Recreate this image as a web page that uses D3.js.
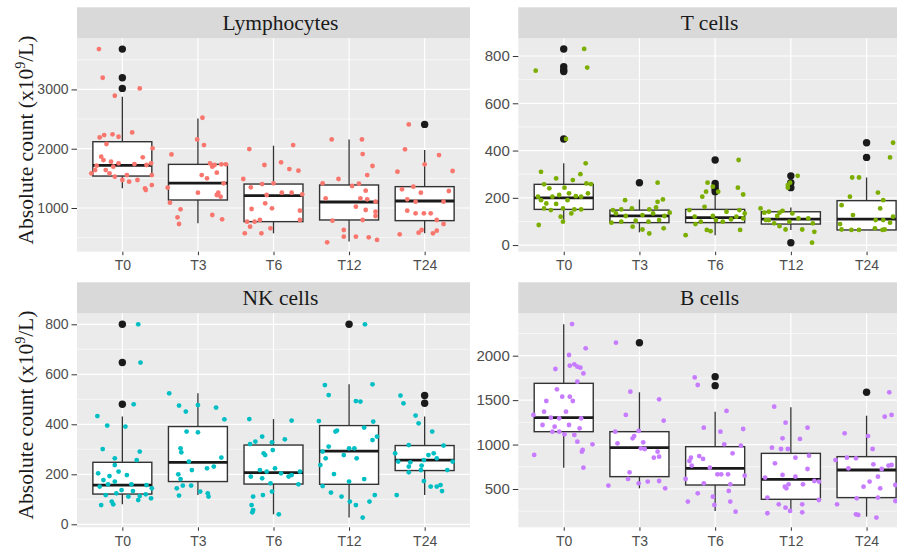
<!DOCTYPE html>
<html>
<head>
<meta charset="utf-8">
<script src="https://cdn.jsdelivr.net/npm/d3@7"></script>
<style>
  body { margin: 0; background: #fff; }
  svg { display: block; }
</style>
</head>
<body>
<div id="chart"></div>
<script>
const timepoints = ['T0', 'T3', 'T6', 'T12', 'T24'];

// box stats per timepoint: [lower whisker, Q1, median, Q3, upper whisker]
const lymphBox = [[1331, 1539, 1719, 2118, 2876], [742, 1135, 1421, 1736, 2511], [573, 770, 1208, 1404, 2051], [433, 798, 1101, 1388, 2157], [573, 787, 1118, 1360, 1978]];
const tBox = [[106, 151, 200, 257, 346], [54, 95, 124, 148, 193], [42, 95, 116, 151, 214], [64, 89, 110, 141, 159], [64, 64, 110, 188, 286]];
const nkBox = [[80, 121, 157, 248, 431], [117, 171, 248, 391, 524], [40, 161, 207, 317, 421], [27, 160, 293, 395, 560], [117, 215, 257, 315, 431]];
const bBox = [[740, 1145, 1303, 1689, 2353], [508, 639, 965, 1145, 1588], [253, 545, 733, 976, 1370], [238, 384, 609, 901, 1419], [189, 403, 714, 864, 1325]];

// outliers per timepoint
const lymphOut = [[3680, 3197, 3017], [], [], [], [2410]];
const tOut = [[830, 755, 741, 734, 449], [264], [360, 261, 247, 236, 226], [293, 264, 243, 10], [433, 371]];
const nkOut = [[800, 647, 480], [], [], [800], [515, 484]];
const bOut = [[], [2146], [1764, 1663], [], [1588]];

// jittered observations per timepoint: [jitter (category units), value]
const lymphPts = [
  [[-0.31, 3680], [-0.26, 3197], [0.23, 3017], [-0.10, 2893], [0.13, 2275], [-0.13, 2242], [-0.24, 2230], [-0.05, 2202], [-0.30, 2191], [-0.21, 2079], [0.40, 2006], [-0.28, 1865], [0.27, 1854], [-0.25, 1809], [-0.15, 1781], [-0.05, 1753], [-0.34, 1713], [-0.36, 1640], [-0.12, 1697], [-0.22, 1640], [-0.17, 1584], [0.06, 1556], [-0.10, 1528], [0.00, 1472], [0.09, 1444], [0.20, 1472], [0.32, 1725], [0.38, 1753], [0.39, 1556], [0.30, 1331], [0.31, 1303], [0.39, 1387], [-0.41, 1584], [0.16, 1741]],
  [[0.06, 2522], [-0.01, 2157], [0.08, 2062], [-0.35, 1904], [0.16, 1753], [0.22, 1725], [0.31, 1736], [0.37, 1736], [0.19, 1697], [0.05, 1556], [0.12, 1500], [0.25, 1595], [0.34, 1416], [-0.40, 1343], [0.00, 1258], [0.27, 1258], [0.25, 1219], [0.30, 1191], [-0.37, 1090], [-0.23, 977], [-0.27, 843], [-0.25, 730], [0.19, 882], [0.32, 809]],
  [[-0.32, 1994], [0.26, 2062], [-0.12, 1725], [0.10, 1770], [0.21, 1657], [0.33, 1629], [-0.40, 1489], [-0.30, 1348], [-0.15, 1404], [0.00, 1416], [0.11, 1258], [0.24, 1258], [0.38, 1230], [-0.09, 1219], [-0.29, 983], [-0.11, 1079], [-0.02, 994], [0.35, 955], [-0.35, 770], [-0.25, 770], [-0.18, 798], [0.35, 798], [-0.31, 685], [-0.04, 657], [-0.38, 573], [-0.16, 573]],
  [[-0.23, 2157], [0.17, 2157], [0.18, 1910], [0.31, 1708], [-0.14, 1489], [0.24, 1556], [-0.35, 1416], [0.04, 1371], [0.13, 1410], [0.22, 1292], [-0.31, 1163], [0.15, 1163], [0.24, 1146], [0.35, 1107], [0.09, 1023], [0.22, 966], [0.35, 938], [0.35, 865], [-0.22, 787], [0.18, 798], [-0.07, 629], [-0.07, 517], [0.09, 517], [0.26, 506], [-0.29, 421], [0.37, 461]],
  [[-0.21, 2410], [-0.26, 1989], [0.00, 1736], [-0.36, 1612], [-0.30, 1315], [-0.15, 1360], [-0.05, 1258], [-0.23, 1146], [-0.12, 1107], [-0.23, 955], [-0.12, 910], [-0.01, 910], [0.08, 910], [-0.33, 556], [-0.04, 629], [-0.08, 584], [0.16, 798], [0.25, 730], [0.11, 573], [0.16, 618], [0.19, 1893], [0.37, 1624], [0.32, 1287], [0.25, 1107]]
];
const tPts = [
  [[-0.37, 738], [0.27, 830], [0.31, 751], [0.03, 449], [0.29, 346], [-0.30, 310], [-0.10, 282], [0.22, 300], [0.12, 275], [-0.26, 257], [-0.19, 240], [0.01, 243], [0.30, 261], [0.36, 258], [-0.34, 205], [-0.30, 190], [-0.15, 205], [-0.06, 212], [0.07, 219], [0.16, 207], [0.23, 205], [0.32, 219], [-0.23, 176], [-0.10, 174], [0.05, 190], [-0.26, 155], [-0.17, 148], [-0.01, 155], [0.14, 151], [0.23, 151], [-0.04, 120], [-0.01, 99], [-0.33, 85], [0.10, 134]],
  [[0.24, 264], [-0.19, 190], [0.31, 193], [0.24, 183], [-0.35, 148], [-0.24, 151], [-0.10, 155], [0.13, 151], [0.22, 159], [0.40, 137], [-0.31, 134], [-0.18, 123], [0.04, 127], [0.18, 134], [0.33, 123], [-0.37, 95], [-0.24, 99], [-0.05, 103], [0.12, 99], [0.26, 106], [-0.09, 78], [0.04, 66], [0.13, 49], [0.32, 71]],
  [[0.31, 360], [-0.10, 264], [-0.03, 247], [0.04, 226], [-0.12, 226], [-0.17, 205], [0.37, 214], [0.30, 243], [-0.34, 148], [-0.14, 162], [0.15, 141], [0.32, 148], [0.39, 134], [-0.27, 120], [-0.03, 123], [0.28, 120], [0.37, 113], [-0.26, 89], [-0.19, 99], [0.01, 106], [0.10, 99], [0.21, 109], [-0.11, 64], [-0.06, 59], [0.33, 64], [-0.39, 42]],
  [[0.09, 293], [-0.04, 254], [-0.01, 264], [-0.04, 243], [-0.40, 155], [-0.35, 137], [-0.29, 141], [-0.15, 137], [-0.11, 145], [0.02, 134], [-0.33, 106], [-0.18, 123], [-0.02, 99], [0.10, 113], [0.23, 113], [0.29, 92], [-0.15, 80], [-0.07, 66], [0.15, 66], [0.31, 56], [0.28, 10], [-0.29, 106], [-0.22, 92]],
  [[-0.19, 286], [-0.10, 286], [0.31, 371], [0.35, 433], [-0.22, 205], [0.15, 222], [0.22, 190], [0.18, 155], [-0.33, 169], [-0.18, 127], [-0.35, 89], [-0.33, 66], [-0.20, 64], [-0.10, 64], [0.11, 71], [0.21, 64], [0.24, 66], [0.12, 106], [0.22, 106], [0.35, 120], [0.31, 95]]
];
const nkPts = [
  [[0.21, 800], [0.24, 647], [0.15, 480], [-0.33, 433], [-0.20, 395], [0.04, 391], [-0.26, 301], [-0.10, 264], [0.23, 291], [0.19, 257], [-0.10, 237], [-0.32, 204], [-0.17, 193], [-0.05, 211], [0.06, 197], [-0.25, 177], [-0.10, 171], [0.12, 160], [0.32, 157], [0.39, 144], [-0.30, 151], [-0.19, 160], [-0.01, 137], [0.14, 133], [-0.22, 117], [-0.08, 124], [0.08, 111], [0.23, 113], [0.38, 104], [-0.28, 77], [-0.14, 91], [-0.12, 80], [0.21, 97], [0.31, 120]],
  [[-0.38, 524], [-0.25, 475], [-0.16, 451], [0.00, 477], [0.24, 467], [0.35, 420], [-0.15, 371], [0.00, 368], [-0.23, 304], [-0.22, 288], [-0.12, 251], [0.31, 267], [-0.08, 217], [0.12, 224], [0.21, 231], [-0.26, 200], [-0.23, 181], [-0.20, 155], [-0.09, 155], [0.03, 131], [0.13, 124], [0.14, 111], [-0.28, 144], [-0.25, 115]],
  [[-0.32, 421], [0.24, 415], [0.15, 340], [-0.15, 351], [-0.24, 331], [-0.31, 321], [-0.02, 328], [-0.13, 284], [-0.11, 277], [-0.01, 297], [-0.18, 217], [-0.09, 211], [0.02, 224], [0.10, 204], [0.20, 191], [0.24, 197], [0.35, 211], [-0.30, 191], [-0.15, 184], [0.33, 160], [-0.04, 164], [-0.02, 131], [-0.27, 111], [-0.14, 117], [-0.29, 77], [-0.27, 57], [-0.28, 48], [0.07, 40]],
  [[0.21, 800], [-0.32, 557], [-0.27, 517], [0.31, 560], [0.09, 493], [0.15, 491], [-0.40, 413], [0.32, 411], [0.20, 387], [-0.18, 371], [-0.16, 375], [0.37, 351], [0.31, 337], [-0.35, 291], [-0.27, 311], [-0.07, 277], [0.07, 304], [0.00, 304], [0.10, 264], [-0.38, 237], [-0.31, 264], [-0.20, 201], [0.20, 181], [0.00, 171], [-0.35, 153], [-0.24, 127], [-0.10, 111], [0.27, 91], [0.34, 117], [0.01, 91], [0.09, 77], [0.18, 27]],
  [[-0.32, 515], [-0.28, 484], [-0.12, 435], [-0.08, 404], [0.10, 371], [-0.39, 284], [-0.21, 317], [-0.35, 251], [-0.19, 248], [-0.01, 257], [0.05, 277], [0.12, 284], [0.25, 315], [0.16, 264], [-0.21, 231], [-0.04, 235], [-0.21, 208], [-0.05, 217], [-0.37, 117], [-0.01, 173], [0.08, 151], [0.16, 151], [0.23, 133], [0.21, 157], [0.37, 251], [0.30, 217]]
];
const bPts = [
  [[0.11, 2356], [0.29, 2083], [0.07, 2008], [-0.11, 1850], [0.08, 1888], [0.14, 1903], [0.18, 1876], [0.22, 1865], [0.26, 1801], [0.18, 1708], [-0.09, 1621], [-0.02, 1539], [-0.23, 1490], [0.08, 1539], [0.12, 1490], [-0.40, 1333], [-0.26, 1370], [0.03, 1370], [-0.17, 1303], [-0.06, 1295], [0.23, 1295], [-0.28, 1220], [-0.12, 1201], [0.07, 1220], [0.21, 1183], [-0.15, 1145], [-0.06, 1145], [0.01, 1115], [0.14, 1108], [0.18, 1033], [0.25, 939], [0.38, 1003], [-0.39, 883], [0.24, 920], [0.26, 740]],
  [[-0.31, 2146], [-0.12, 1595], [0.26, 1509], [-0.18, 1333], [0.32, 1269], [-0.01, 1153], [-0.32, 1145], [-0.07, 1096], [-0.09, 1070], [0.05, 1025], [-0.29, 1014], [0.02, 958], [0.07, 950], [0.24, 920], [0.19, 853], [0.26, 864], [-0.13, 688], [-0.15, 613], [-0.01, 564], [-0.41, 538], [0.11, 583], [0.26, 590], [0.34, 508]],
  [[-0.27, 1756], [-0.23, 1670], [0.15, 1378], [-0.15, 1190], [0.37, 1175], [0.07, 1145], [0.12, 1003], [0.34, 988], [0.23, 901], [-0.21, 871], [-0.16, 838], [-0.32, 853], [-0.34, 815], [-0.31, 763], [-0.07, 740], [0.03, 665], [0.08, 665], [0.17, 665], [0.39, 650], [-0.39, 613], [-0.15, 564], [0.20, 553], [-0.23, 451], [-0.03, 414], [0.18, 478], [-0.36, 358], [-0.01, 320], [0.20, 358], [0.27, 245]],
  [[-0.22, 1426], [-0.07, 1246], [0.22, 1190], [-0.11, 1070], [0.12, 1063], [-0.25, 965], [-0.13, 950], [-0.04, 950], [0.06, 853], [0.24, 875], [-0.21, 789], [0.22, 725], [-0.34, 628], [-0.11, 658], [0.06, 639], [-0.03, 553], [-0.08, 526], [-0.06, 508], [0.16, 553], [0.31, 590], [0.37, 583], [-0.31, 403], [0.37, 376], [-0.16, 328], [-0.07, 290], [-0.01, 253], [0.15, 328], [0.15, 238], [-0.31, 227]],
  [[0.30, 1588], [0.24, 1314], [0.33, 1333], [-0.29, 1126], [0.02, 1096], [0.08, 950], [-0.26, 853], [-0.14, 845], [-0.41, 826], [0.09, 778], [-0.24, 733], [0.20, 725], [0.29, 763], [0.33, 770], [0.15, 639], [-0.04, 526], [0.04, 583], [0.18, 508], [0.38, 545], [-0.13, 395], [0.15, 403], [0.38, 365], [-0.39, 328], [-0.14, 215], [-0.11, 208], [0.13, 178]]
];

const lymphTicks = [1000, 2000, 3000];
const tTicks = [0, 200, 400, 600, 800];
const nkTicks = [0, 200, 400, 600, 800];
const bTicks = [500, 1000, 1500, 2000];

const W = 897, H = 551;
const svg = d3.select('#chart').append('svg')
    .attr('width', W)
    .attr('height', H);

const panels = [
    {name: 'Lymphocytes', box: lymphBox, out: lymphOut, pts: lymphPts, ticks: lymphTicks, color: '#F8766D',
     domain: [263, 3862], x0: 77, x1: 470, y0: 38.3, y1: 251.7, labelX: 280.5, yFont: 14, yTitle: 140},
    {name: 'T cells', box: tBox, out: tOut, pts: tPts, ticks: tTicks, color: '#7CAE00',
     domain: [-28, 875], x0: 518.3, x1: 912, y0: 38.3, y1: 251.7, labelX: 709.5, yFont: 15},
    {name: 'NK cells', box: nkBox, out: nkOut, pts: nkPts, ticks: nkTicks, color: '#00BFC4',
     domain: [-12, 844], x0: 77, x1: 470, y0: 313.3, y1: 527.3, labelX: 280.5, yFont: 14, yTitle: 415},
    {name: 'B cells', box: bBox, out: bOut, pts: bPts, ticks: bTicks, color: '#C77CFF',
     domain: [69, 2477], x0: 518.3, x1: 912, y0: 313.3, y1: 527.3, labelX: 709.5, yFont: 15}
];

const drawPanel = (p) => {
    const x = d3.scalePoint().domain(timepoints).range([p.x0, p.x1]).padding(0.6);
    const y = d3.scaleLinear().domain(p.domain).range([p.y1, p.y0]);
    const step = x.step();
    const boxW = step * 0.78;
    const g = svg.append('g');

    // panel background + strip
    g.append('rect')
        .attr('x', p.x0).attr('y', p.y0)
        .attr('width', p.x1 - p.x0).attr('height', p.y1 - p.y0)
        .attr('fill', '#EBEBEB');
    g.append('rect')
        .attr('x', p.x0).attr('y', p.y0 - 31)
        .attr('width', p.x1 - p.x0).attr('height', 31)
        .attr('fill', '#D9D9D9');
    g.append('text')
        .attr('x', p.labelX).attr('y', p.y0 - 15.5 + 7.2)
        .attr('text-anchor', 'middle')
        .attr('font-family', '"Liberation Serif", "Times New Roman", serif')
        .attr('font-size', 21.5)
        .attr('fill', '#1A1A1A')
        .text(p.name);

    // minor gridlines halfway between the ticks
    const tstep = p.ticks[1] - p.ticks[0];
    const minor = d3.range(p.ticks[0] - tstep / 2, p.domain[1], tstep)
        .filter(v => v > p.domain[0] && v < p.domain[1]);
    g.selectAll('.minor').data(minor).enter().append('line')
        .attr('x1', p.x0).attr('x2', p.x1)
        .attr('y1', d => y(d)).attr('y2', d => y(d))
        .attr('stroke', '#fff').attr('stroke-width', 0.6);
    g.selectAll('.major').data(p.ticks).enter().append('line')
        .attr('x1', p.x0).attr('x2', p.x1)
        .attr('y1', d => y(d)).attr('y2', d => y(d))
        .attr('stroke', '#fff').attr('stroke-width', 1.2);
    g.selectAll('.vgrid').data(timepoints).enter().append('line')
        .attr('x1', d => x(d)).attr('x2', d => x(d))
        .attr('y1', p.y0).attr('y2', p.y1)
        .attr('stroke', '#fff').attr('stroke-width', 1.2);

    // axes
    const yAxis = g.append('g')
        .attr('transform', `translate(${p.x0},0)`)
        .call(d3.axisLeft(y).tickValues(p.ticks).tickFormat(d3.format('d')).tickSize(5.5).tickPadding(3));
    yAxis.selectAll('text').attr('font-size', p.yFont);
    const xAxis = g.append('g')
        .attr('transform', `translate(0,${p.y1})`)
        .call(d3.axisBottom(x).tickSize(3.5).tickPadding(5));
    xAxis.selectAll('text').attr('font-size', 14);
    [yAxis, xAxis].forEach(a => {
        a.attr('font-size', null);
        a.select('.domain').remove();
        a.selectAll('line').attr('stroke', '#333');
        a.selectAll('text')
            .attr('fill', '#4D4D4D')
            .attr('font-family', '"Liberation Sans", Arial, sans-serif');
    });

    // boxplots
    const boxes = g.selectAll('.box').data(timepoints).enter().append('g');
    boxes.append('line')
        .attr('x1', d => x(d)).attr('x2', d => x(d))
        .attr('y1', (d, i) => y(p.box[i][3])).attr('y2', (d, i) => y(p.box[i][4]))
        .attr('stroke', '#333').attr('stroke-width', 1.3);
    boxes.append('line')
        .attr('x1', d => x(d)).attr('x2', d => x(d))
        .attr('y1', (d, i) => y(p.box[i][1])).attr('y2', (d, i) => y(p.box[i][0]))
        .attr('stroke', '#333').attr('stroke-width', 1.3);
    boxes.append('rect')
        .attr('x', d => x(d) - boxW / 2)
        .attr('y', (d, i) => y(p.box[i][3]))
        .attr('width', boxW)
        .attr('height', (d, i) => y(p.box[i][1]) - y(p.box[i][3]))
        .attr('fill', '#fff')
        .attr('stroke', '#333').attr('stroke-width', 1.4);
    boxes.append('line')
        .attr('x1', d => x(d) - boxW / 2).attr('x2', d => x(d) + boxW / 2)
        .attr('y1', (d, i) => y(p.box[i][2])).attr('y2', (d, i) => y(p.box[i][2]))
        .attr('stroke', '#1A1A1A').attr('stroke-width', 2.8);

    // outliers
    const outs = p.out.flatMap((vals, i) => vals.map(v => ({tp: timepoints[i], v})));
    g.selectAll('.out').data(outs).enter().append('circle')
        .attr('cx', d => x(d.tp))
        .attr('cy', d => y(d.v))
        .attr('r', 3.7)
        .attr('fill', '#1A1A1A');

    // jittered points
    const pts = p.pts.flatMap((vals, i) => vals.map(([j, v]) => ({tp: timepoints[i], j, v})));
    g.selectAll('.pt').data(pts).enter().append('circle')
        .attr('cx', d => x(d.tp) + d.j * step)
        .attr('cy', d => y(d.v))
        .attr('r', 2.4)
        .attr('fill', p.color);

    if (p.yTitle) {
        const t = svg.append('text')
            .attr('transform', `translate(33,${p.yTitle}) rotate(-90)`)
            .attr('text-anchor', 'middle')
            .attr('font-family', '"Liberation Serif", "Times New Roman", serif')
            .attr('font-size', 21.5)
            .attr('fill', '#1A1A1A');
        t.append('tspan').text('Absolute count (x10');
        t.append('tspan').attr('dy', -8).attr('font-size', 14).text('9');
        t.append('tspan').attr('dy', 8).text('/L)');
    }
};

panels.forEach(drawPanel);
</script>
</body>
</html>
